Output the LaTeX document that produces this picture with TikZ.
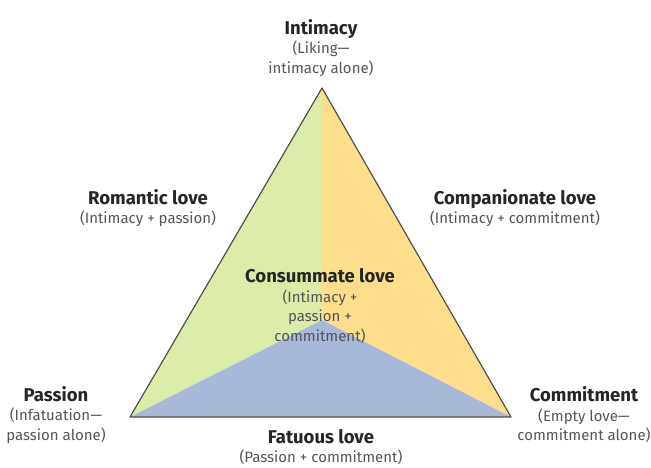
\documentclass[tikz,border=0pt]{standalone}
\usepackage{fontspec}
\setmainfont{Fira Sans}

\definecolor{verde}{RGB}{218,236,168}
\definecolor{amarillo}{RGB}{252,222,140}
\definecolor{azul}{RGB}{168,184,216}
\definecolor{borde}{RGB}{80,80,72}
\definecolor{gris}{RGB}{85,85,85}

\newcommand{\tit}{\bfseries\fontsize{18.5}{19.5}\selectfont\color{black!85}}
\newcommand{\sub}{\fontsize{15}{19.5}\selectfont\color{gris}}

\begin{document}
\begin{tikzpicture}[x=1pt, y=-1pt,
    etiqueta/.style={align=center, inner sep=0pt, font=\fontsize{15}{19.5}\selectfont}]

        \useasboundingbox (0,0) rectangle (651,468);

        % Vertices
        \coordinate (A) at (322, 88);
        \coordinate (P) at (130, 417);
        \coordinate (C) at (511, 417);
        \coordinate (M) at (322, 320);

        % Regiones
        \fill[verde] (A) -- (M) -- (P) -- cycle;
        \fill[amarillo] (A) -- (C) -- (M) -- cycle;
        \fill[azul] (P) -- (M) -- (C) -- cycle;
        \draw[borde, line width=1.2pt, line join=round] (A) -- (P) -- (C) -- cycle;

        % Vertices (etiquetas)
        \node[etiqueta] (intim) at (321, 48) {{\tit Intimacy}\\{\sub (Liking---}\\{\sub intimacy alone)}};
        \node[etiqueta] (pasion) at (56, 415) {{\tit Passion}\\{\sub (Infatuation---}\\{\sub passion alone)}};
        \node[etiqueta] (compro) at (584, 415) {{\tit Commitment}\\{\sub (Empty love---}\\{\sub commitment alone)}};

        % Lados
        \node[etiqueta] (romant) at (148, 208) {{\tit Romantic love}\\{\sub (Intimacy + passion)}};
        \node[etiqueta] (compan) at (515, 208) {{\tit Companionate love}\\{\sub (Intimacy + commitment)}};
        \node[etiqueta] (fatuo) at (321, 447) {{\tit Fatuous love}\\{\sub (Passion + commitment)}};

        % Centro
        \node[etiqueta] (consum) at (320, 306) {{\tit Consummate love}\\{\sub (Intimacy +}\\{\sub passion +}\\{\sub commitment)}};

    \end{tikzpicture}
\end{document}
